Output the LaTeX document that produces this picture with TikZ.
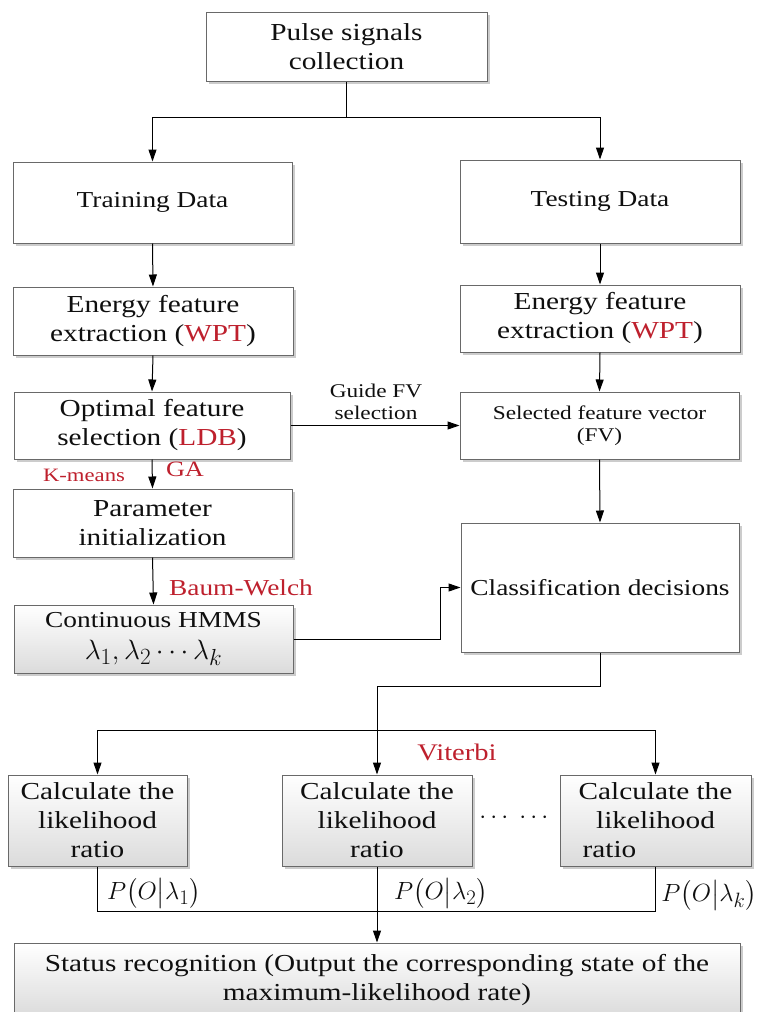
\documentclass[tikz,border=0pt]{standalone}
\usepackage{amsmath}
\usepackage{fontspec}
\setmainfont[FakeStretch=1.2]{Liberation Serif}
\usetikzlibrary{arrows.meta,shadows}
\definecolor{redtxt}{RGB}{190,32,45}
\definecolor{bordergray}{RGB}{105,105,105}
\definecolor{txt}{RGB}{15,15,15}
\begin{document}
\begin{tikzpicture}[x=1pt,y=-1pt,
 box/.style={draw=bordergray, line width=1pt, fill=white, align=center, inner sep=2pt, text=txt,
   drop shadow={shadow xshift=2.5pt, shadow yshift=-2.5pt, fill=black!20, opacity=1}},
 gbox/.style={box, top color=white, bottom color=black!14},
 big/.style={font=\fontsize{24.4}{29}\selectfont},
 med/.style={font=\fontsize{22.8}{28}\selectfont},
 small/.style={font=\fontsize{19.4}{22}\selectfont},
 arr/.style={-{Triangle[length=12pt,width=8pt]}, line width=1pt},
 ln/.style={line width=1pt},
 lbl/.style={text=redtxt, inner sep=0pt},
 mathlbl/.style={text=txt, font=\fontsize{24.88}{28}\selectfont, inner sep=0pt}]
\useasboundingbox (0,0) rectangle (761,1012);

% boxes
\node[box,big,minimum width=281pt,minimum height=69pt] (pulse) at (346.5,46.5) {Pulse signals\\collection};
\node[box,med,minimum width=279pt,minimum height=81pt] (train) at (152.5,202.5) {Training Data};
\node[box,med,minimum width=280pt,minimum height=83pt] (test) at (600,201.5) {Testing Data};
\node[box,big,minimum width=280pt,minimum height=68pt] (enL) at (153,321) {Energy feature\\extraction (\textcolor{redtxt}{WPT})};
\node[box,big,minimum width=280pt,minimum height=67pt] (enR) at (600,318.5) {Energy feature\\extraction (\textcolor{redtxt}{WPT})};
\node[box,big,minimum width=276pt,minimum height=67pt] (opt) at (152,425.5) {Optimal feature\\selection (\textcolor{redtxt}{LDB})};
\node[box,small,minimum width=279pt,minimum height=67pt] (sel) at (599.5,425.5) {Selected feature vector\\(FV)};
\node[box,big,minimum width=279pt,minimum height=68pt] (par) at (152.5,523) {Parameter\\initialization};
\node[gbox,med,minimum width=279pt,minimum height=68pt] (hmm) at (153.5,639) {Continuous HMMS\\[4pt]{\fontsize{24.88}{28}\selectfont\scalebox{1.12}{$\lambda_1,\lambda_2\cdots\lambda_k$}}};
\node[box,med,minimum width=278pt,minimum height=129pt] (cls) at (600,587.5) {Classification decisions};
\node[gbox,big,minimum width=179pt,minimum height=91pt] (c1) at (97.5,820.5) {Calculate the\\likelihood\\ratio};
\node[gbox,big,minimum width=190pt,minimum height=91pt] (c2) at (377,820.5) {Calculate the\\likelihood\\ratio};
\node[gbox,big,minimum width=191pt,minimum height=91pt] (c3) at (655.5,820.5) {Calculate the\\likelihood\\ratio\hspace*{92pt}};
\node[gbox,big,minimum width=726pt,minimum height=73pt] (st) at (377,979.5) {Status recognition (Output the corresponding state of the\\maximum-likelihood rate)};

% labels
\node[small,text=txt,align=center,inner sep=0pt] (guide) at (376,402) {Guide FV\\selection};
\node[lbl,font=\fontsize{18.9}{22}\selectfont] (km) at (84,475) {K-means};
\node[lbl,font=\fontsize{21.9}{26}\selectfont] (ga) at (185,469) {GA};
\node[lbl,med] (bw) at (241,588) {Baum-Welch};
\node[lbl,font=\fontsize{23.8}{28}\selectfont] (vit) at (457,752) {Viterbi};
\node[text=txt,font=\fontsize{24.88}{30}\selectfont] (dots) at (516,818) {$\cdots\;\cdots$};
\node[mathlbl] (p1) at (154,893) {$P\bigl(O\big|\lambda_1\bigr)$};
\node[mathlbl] (p2) at (441,893) {$P\bigl(O\big|\lambda_2\bigr)$};
\node[mathlbl] (p3) at (709,895) {$P\bigl(O\big|\lambda_k\bigr)$};

% connectors
\coordinate (t1) at (346.5,117);
\draw[ln] (pulse.south) -- (t1);
\draw[arr] (t1) -| (train.north);
\draw[arr] (t1) -| (test.north);
\draw[arr] (train.south) -- (enL.north);
\draw[arr] (test.south) -- (enR.north);
\draw[arr] (enL.south) -- (opt.north);
\draw[arr] (enR.south) -- (sel.north);
\draw[arr] (opt.east) -- (sel.west);
\draw[arr] (opt.south) -- (par.north);
\draw[arr] (par.south) -- (hmm.north);
\coordinate (k1) at (440,639);
\draw[arr] (hmm.east) -- (k1) |- (cls.west);
\draw[arr] (sel.south) -- (cls.north);
\coordinate (j1) at (377,686);
\coordinate (j2) at (377,730);
\draw[arr] (cls.south) |- (j1) -- (c2.north);
\draw[arr] (j2) -| (c1.north);
\draw[arr] (j2) -| (c3.north);
\coordinate (j3) at (377,911);
\draw[ln] (c1.south) |- (j3);
\draw[ln] (c3.south) |- (j3);
\draw[arr] (c2.south) -- (st.north);
\end{tikzpicture}
\end{document}
